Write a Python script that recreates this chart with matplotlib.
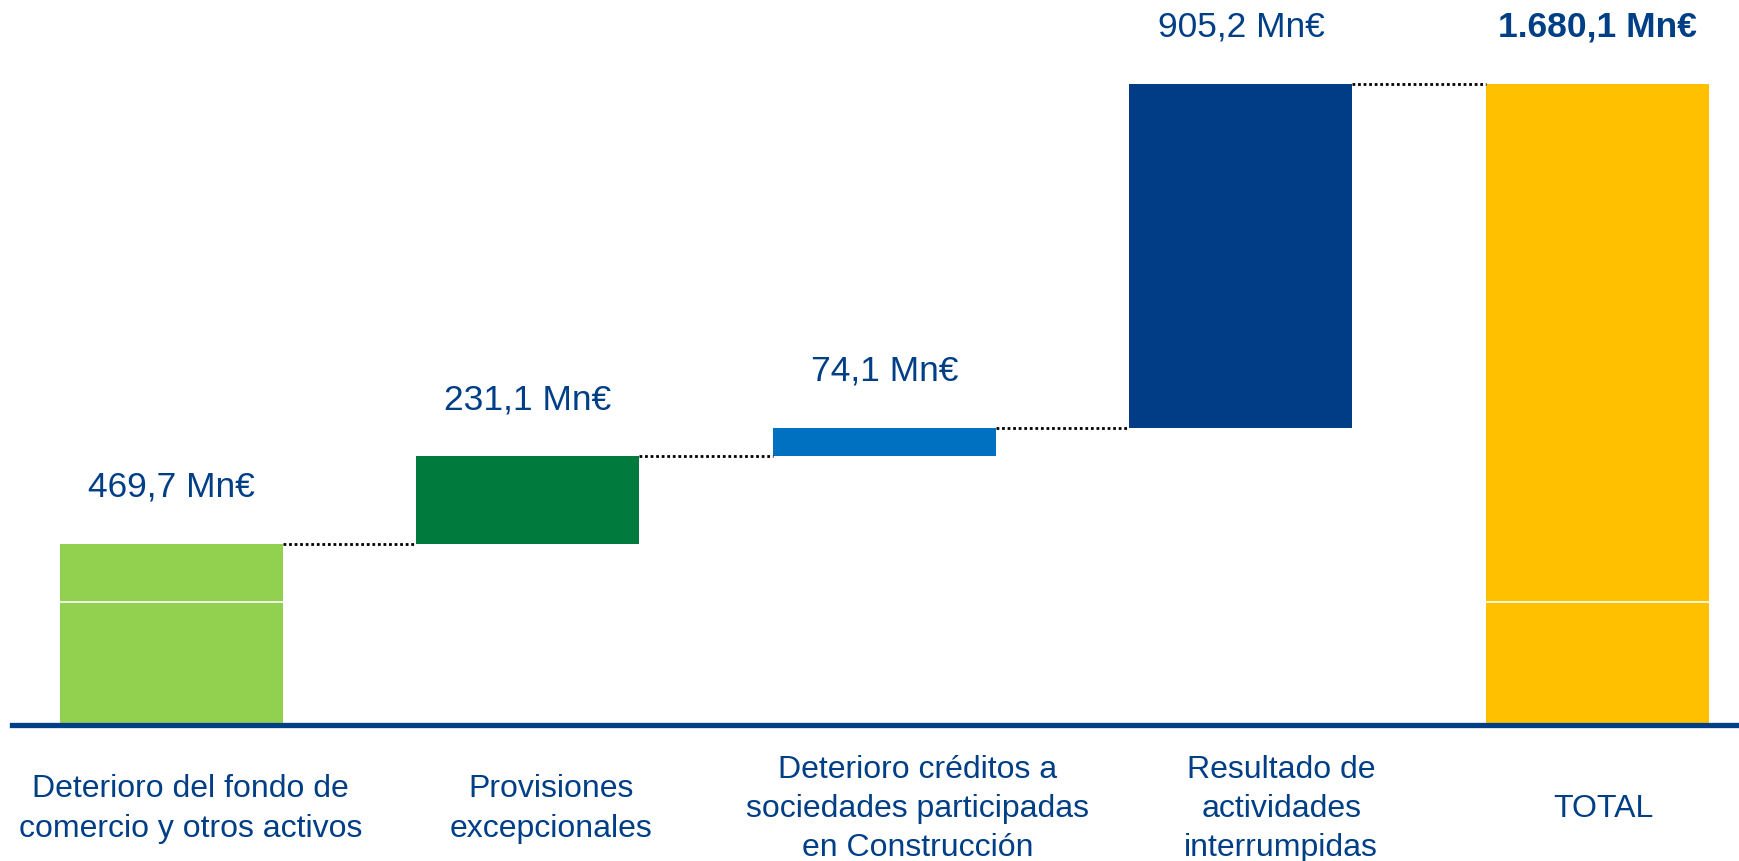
import matplotlib
matplotlib.use('Agg')
import matplotlib.pyplot as plt
import matplotlib.transforms as mtransforms

plt.rcParams['font.family'] = ['Liberation Sans', 'DejaVu Sans']

# data
categories = ['Deterioro del fondo de\ncomercio y otros activos',
              'Provisiones\nexcepcionales',
              'Deterioro créditos a\nsociedades participadas\nen Construcción',
              'Resultado de\nactividades\ninterrumpidas',
              'TOTAL']
steps = [469.7, 231.1, 74.1, 905.2]
total = 1680.1
value_labels = ['469,7 Mn€', '231,1 Mn€', '74,1 Mn€', '905,2 Mn€', '1.680,1 Mn€']

colors = ['#92D050', '#007A3D', '#0070C0', '#003D86', '#FFC000']
navy = '#003E86'
# category text boxes sit a bit right of the bars (points)
label_dx = [14, 17, 24, 29, 4]

fig = plt.figure(figsize=(17.4, 8.61), dpi=100)
ax = fig.add_axes([12 / 1740, 138 / 861, 1728 / 1740, 723 / 861])
ax.set_xlim(-0.447, 4.40)
ax.set_ylim(0, 1901)
ax.axis('off')

width = 0.625
bottoms = []
run = 0
for v in steps:
    bottoms.append(run)
    run += v
heights = steps + [total]
bottoms.append(0)
xs = list(range(len(heights)))

ax.bar(xs, heights, width=width, bottom=bottoms, color=colors, zorder=2)

# white gridline seen through the bars
ax.axhline(318, color='white', lw=1.2, zorder=3)

# connectors
tops = [b + h for b, h in zip(bottoms, heights)]
for i in range(len(xs) - 1):
    ax.plot([xs[i] + width / 2, xs[i + 1] - width / 2], [tops[i], tops[i]],
            color='black', lw=2, ls=(0, (1, 1)), zorder=2)

# baseline
ax.axhline(-6, color=navy, lw=3.8, zorder=4, clip_on=False)

# value labels
for i, (x, t, lab) in enumerate(zip(xs, tops, value_labels)):
    ax.annotate(lab, (x, t), xytext=(0, 41), textcoords='offset points',
                ha='center', va='center', fontsize=25.5, color=navy,
                fontweight='bold' if i == len(xs) - 1 else 'normal')

# category labels
trans = mtransforms.blended_transform_factory(ax.transData, fig.transFigure)
for x, c, dx in zip(xs, categories, label_dx):
    ax.annotate(c, (x, 52 / 861), xycoords=trans, xytext=(dx, 0),
                textcoords='offset points', ha='center', va='center',
                fontsize=23, color=navy, linespacing=1.4)

fig.savefig('out.png', dpi=100)
